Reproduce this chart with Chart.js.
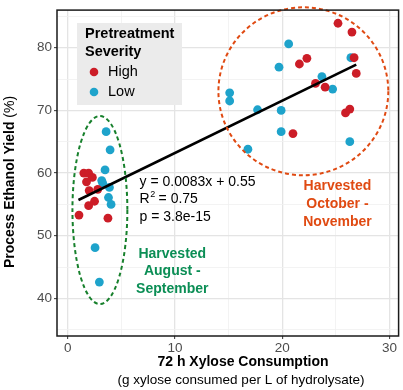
<!DOCTYPE html>
<html>
<head>
<meta charset="utf-8">
<script src="https://cdn.jsdelivr.net/npm/chart.js@4.4.1/dist/chart.umd.min.js"></script>
<style>
  html, body { margin: 0; padding: 0; background: #fff; }
  #wrap { width: 403px; height: 390px; }
</style>
</head>
<body>
<div id="wrap"><canvas id="chart" width="403" height="390"></canvas></div>
<script>
// data
const highX = [25.2, 26.5, 26.7, 22.3, 21.6, 26.9, 23.1, 24.0, 25.9, 26.3, 21.0,
               1.5, 1.95, 2.3, 1.75, 2.8, 2.0, 2.5, 1.95, 1.05, 3.75];
const highY = [83.9, 82.5, 78.4, 78.3, 77.4, 75.9, 74.3, 73.7, 69.6, 70.2, 66.3,
               60.0, 60.0, 59.3, 58.6, 57.4, 57.2, 55.5, 54.8, 53.3, 52.8];
const lowX = [20.6, 26.4, 19.7, 23.7, 24.7, 15.1, 15.1, 17.7, 19.9, 19.9, 26.3, 16.8,
              3.58, 3.95, 3.48, 3.17, 3.26, 3.89, 3.8, 4.04, 2.55, 2.95];
const lowY = [80.6, 78.4, 76.9, 75.4, 73.4, 72.8, 71.5, 70.1, 70.0, 66.6, 65.0, 63.8,
              66.6, 63.7, 60.5, 58.8, 58.4, 57.7, 56.1, 55.0, 48.1, 42.6];
const fitX = [1.0, 26.9];
const fitY = [55.7, 77.3];

const xTicks = [0, 10, 20, 30];
const xMinor = [5, 15, 25];
const yTicks = [40, 50, 60, 70, 80];
const yMinor = [35, 45, 55, 65, 75, 85];

const fitLines = ['y = 0.0083x + 0.55', 'R2 = 0.75', 'p = 3.8e-15'];
const augLabel = ['Harvested', 'August -', 'September'];
const octLabel = ['Harvested', 'October -', 'November'];

const RED = '#cc1d27';
const BLUE = '#1ea3cb';
const GREEN_TXT = '#0b8e55';
const GREEN_LINE = '#17802c';
const ORANGE = '#e04a12';
const FONT = "'Liberation Sans', Arial, sans-serif";

// group ellipses, in data units
const augEllipse = { cx: 3.0, cy: 54.1, rx: 2.56, ry: 15.0 };
const octEllipse = { cx: 21.97, cy: 73.05, rx: 7.92, ry: 13.4 };

const pts = (xs, ys) => xs.map((x, i) => ({ x: x, y: ys[i] }));

const overlay = {
  id: 'overlay',
  afterDatasetsDraw(chart) {
    const { ctx, scales: { x, y } } = chart;

    function ellipse(e, color) {
      const cx = x.getPixelForValue(e.cx), cy = y.getPixelForValue(e.cy);
      const rx = Math.abs(x.getPixelForValue(e.cx + e.rx) - cx);
      const ry = Math.abs(y.getPixelForValue(e.cy + e.ry) - cy);
      ctx.save();
      ctx.strokeStyle = color;
      ctx.lineWidth = 2;
      ctx.setLineDash([4, 3]);
      ctx.beginPath();
      ctx.ellipse(cx, cy, rx, ry, 0, 0, Math.PI * 2);
      ctx.stroke();
      ctx.restore();
    }
    ellipse(augEllipse, GREEN_LINE);
    ellipse(octEllipse, ORANGE);

    ctx.save();
    // fit text
    ctx.fillStyle = '#000';
    ctx.font = '14px ' + FONT;
    ctx.textBaseline = 'middle';
    ctx.textAlign = 'left';
    const tx = x.getPixelForValue(6.7);
    const ty = y.getPixelForValue(58.6);
    ctx.fillText(fitLines[0], tx, ty);
    ctx.fillText('R', tx, ty + 17.5);
    const rw = ctx.measureText('R').width;
    ctx.font = '9px ' + FONT;
    ctx.fillText('2', tx + rw + 0.5, ty + 12.5);
    ctx.font = '14px ' + FONT;
    ctx.fillText(' = 0.75', tx + rw + 5, ty + 17.5);
    ctx.fillText(fitLines[2], tx, ty + 35.5);

    // group labels
    ctx.textAlign = 'center';
    ctx.font = 'bold 14px ' + FONT;
    ctx.fillStyle = GREEN_TXT;
    const gx = x.getPixelForValue(9.75), gy = y.getPixelForValue(47.1);
    augLabel.forEach((t, i) => ctx.fillText(t, gx, gy + i * 17.5));
    ctx.fillStyle = ORANGE;
    const ox = x.getPixelForValue(25.15), oy = y.getPixelForValue(57.85);
    octLabel.forEach((t, i) => ctx.fillText(t, ox, oy + i * 18));
    ctx.restore();
  },
  afterDraw(chart) {
    const { ctx, chartArea: a } = chart;
    ctx.save();
    // panel border
    ctx.strokeStyle = '#1a1a1a';
    ctx.lineWidth = 1.5;
    ctx.strokeRect(a.left, a.top, a.right - a.left, a.bottom - a.top);

    // legend
    ctx.fillStyle = '#ebebeb';
    ctx.fillRect(77, 23, 105, 82);
    ctx.fillStyle = '#000';
    ctx.textBaseline = 'middle';
    ctx.textAlign = 'left';
    ctx.font = 'bold 14.5px ' + FONT;
    ctx.fillText('Pretreatment', 85, 34);
    ctx.fillText('Severity', 85, 52);
    ctx.font = '14.5px ' + FONT;
    [['High', RED, 72], ['Low', BLUE, 92]].forEach(([lab, col, yy]) => {
      ctx.fillStyle = col;
      ctx.beginPath();
      ctx.arc(94, yy, 4.3, 0, Math.PI * 2);
      ctx.fill();
      ctx.fillStyle = '#000';
      ctx.fillText(lab, 108, yy);
    });

    // axis titles
    ctx.textAlign = 'center';
    ctx.font = 'bold 14px ' + FONT;
    ctx.fillText('72 h Xylose Consumption', 243, 362);
    ctx.font = '13.5px ' + FONT;
    ctx.fillText('(g xylose consumed per L of hydrolysate)', 241, 380);

    ctx.translate(10, 182);
    ctx.rotate(-Math.PI / 2);
    const t1 = 'Process Ethanol Yield ';
    ctx.font = 'bold 14px ' + FONT;
    const w1 = ctx.measureText(t1).width;
    ctx.font = '14px ' + FONT;
    const w2 = ctx.measureText('(%)').width;
    ctx.textAlign = 'left';
    ctx.font = 'bold 14px ' + FONT;
    ctx.fillText(t1, -(w1 + w2) / 2, 0);
    ctx.font = '14px ' + FONT;
    ctx.fillText('(%)', -(w1 + w2) / 2 + w1, 0);
    ctx.restore();
  }
};

const gridColor = (major) => (c) => major.includes(c.tick.value) ? '#e4e4e4' : '#f0f0f0';
const gridWidth = (major) => (c) => major.includes(c.tick.value) ? 1.3 : 0.8;
const tickCol = (major) => (c) => major.includes(c.tick.value) ? '#333' : 'rgba(0,0,0,0)';

new Chart(document.getElementById('chart'), {
  type: 'scatter',
  data: {
    datasets: [
      {
        type: 'line',
        data: pts(fitX, fitY),
        borderColor: '#000',
        borderWidth: 2.6,
        pointRadius: 0,
        fill: false
      },
      {
        label: 'High',
        data: pts(highX, highY),
        backgroundColor: RED,
        borderWidth: 0,
        pointRadius: 4.4
      },
      {
        label: 'Low',
        data: pts(lowX, lowY),
        backgroundColor: BLUE,
        borderWidth: 0,
        pointRadius: 4.4
      }
    ]
  },
  options: {
    responsive: false,
    animation: false,
    devicePixelRatio: 1,
    layout: { padding: { top: 7, right: 4, left: 0, bottom: 0 } },
    plugins: {
      legend: { display: false },
      tooltip: { enabled: false }
    },
    scales: {
      x: {
        type: 'linear',
        min: -1,
        max: 30.85,
        afterBuildTicks: s => { s.ticks = xTicks.concat(xMinor).sort((a, b) => a - b).map(v => ({ value: v })); },
        afterFit: s => { s.height = 54; },
        ticks: {
          callback: v => xTicks.includes(v) ? String(v) : '',
          color: '#4d4d4d',
          font: { size: 13.5, family: FONT },
          padding: 1,
          maxRotation: 0,
          autoSkip: false
        },
        grid: {
          color: gridColor(xTicks),
          lineWidth: gridWidth(xTicks),
          tickColor: tickCol(xTicks),
          tickLength: 3,
          tickWidth: 1
        },
        border: { display: false }
      },
      y: {
        type: 'linear',
        min: 34,
        max: 86,
        afterBuildTicks: s => { s.ticks = yTicks.concat(yMinor).sort((a, b) => a - b).map(v => ({ value: v })); },
        afterFit: s => { s.width = 57; },
        ticks: {
          callback: v => yTicks.includes(v) ? String(v) : '',
          color: '#4d4d4d',
          font: { size: 13.5, family: FONT },
          padding: 2,
          autoSkip: false
        },
        grid: {
          color: gridColor(yTicks),
          lineWidth: gridWidth(yTicks),
          tickColor: tickCol(yTicks),
          tickLength: 3,
          tickWidth: 1
        },
        border: { display: false }
      }
    }
  },
  plugins: [overlay]
});
</script>
</body>
</html>
